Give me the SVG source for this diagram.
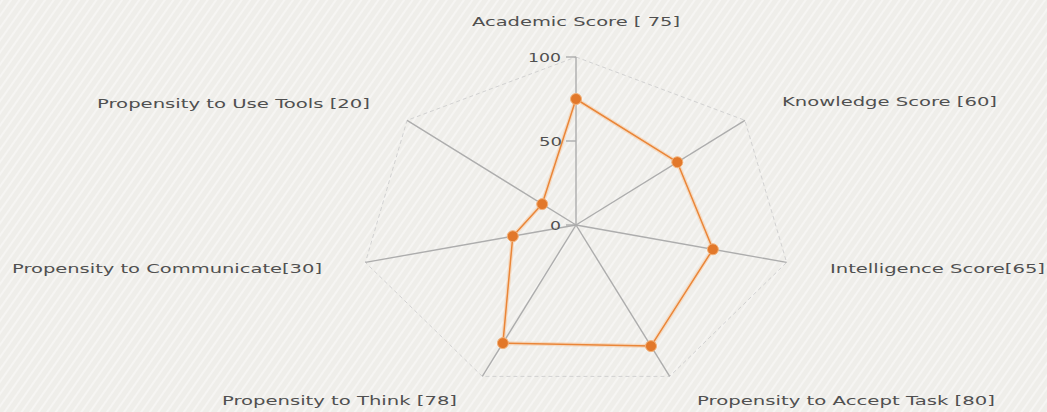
<svg xmlns="http://www.w3.org/2000/svg" width="1047" height="412" viewBox="0 0 1047 412">
  <defs>
    <pattern id="stripes" width="7" height="7" patternUnits="userSpaceOnUse" patternTransform="rotate(35)">
      <rect width="7" height="7" fill="#efeeea"/>
      <line x1="2" y1="0" x2="2" y2="7" stroke="#f6f5f3" stroke-width="2.2"/>
    </pattern>
    <style>
      .lbl { font-family: "DejaVu Sans", Verdana, sans-serif; font-size: 13px; fill: #505050; }
      .tick { font-family: "DejaVu Sans", Verdana, sans-serif; font-size: 13px; fill: #505050; text-anchor: end; }
      .axis { stroke: #adadad; stroke-width: 1.4; fill: none; }
      .ring { stroke: #d2d2d2; stroke-width: 1; stroke-dasharray: 4 3; fill: none; }
      .glow { stroke: #f6c9a0; stroke-width: 4; fill: none; opacity: 0.55; stroke-linejoin: round; }
      .data { stroke: #ea8638; stroke-width: 1.5; fill: none; stroke-linejoin: round; }
      .dot { fill: #e2782a; stroke: #f3b27a; stroke-width: 1; }
    </style>
  </defs>

  <rect width="1047" height="412" fill="url(#stripes)"/>

  <g id="connectors">
    <polygon class="ring" points="576,57 744.9,120.3 786.6,262.4 669.7,376.4 482.3,376.4 365.4,262.4 407.1,120.3"/>
    <line class="axis" x1="576" y1="225" x2="576" y2="57"/>
    <line class="axis" x1="576" y1="225" x2="744.9" y2="120.3"/>
    <line class="axis" x1="576" y1="225" x2="786.6" y2="262.4"/>
    <line class="axis" x1="576" y1="225" x2="669.7" y2="376.4"/>
    <line class="axis" x1="576" y1="225" x2="482.3" y2="376.4"/>
    <line class="axis" x1="576" y1="225" x2="365.4" y2="262.4"/>
    <line class="axis" x1="576" y1="225" x2="407.1" y2="120.3"/>
    <line class="axis" x1="566" y1="57" x2="576" y2="57"/>
    <line class="axis" x1="566" y1="141" x2="576" y2="141"/>
    <line class="axis" x1="566" y1="225" x2="576" y2="225"/>
    <polygon class="glow" points="576,99 677.3,162.2 712.9,249.3 651,346.1 502.9,343.1 512.8,236.2 542.2,204.1"/>
    <polygon class="data" points="576,99 677.3,162.2 712.9,249.3 651,346.1 502.9,343.1 512.8,236.2 542.2,204.1"/>
  </g>

  <g id="scale">
    <text class="tick" x="561" y="62" textLength="33" lengthAdjust="spacingAndGlyphs">100</text>
    <text class="tick" x="562" y="146" textLength="23" lengthAdjust="spacingAndGlyphs">50</text>
    <text class="tick" x="561" y="230" textLength="11" lengthAdjust="spacingAndGlyphs">0</text>
  </g>

  <g id="academic">
    <circle class="dot" cx="576" cy="99" r="5.5"/>
    <text class="lbl" x="472" y="26" textLength="208" lengthAdjust="spacingAndGlyphs">Academic Score [ 75]</text>
  </g>
  <g id="knowledge">
    <circle class="dot" cx="677.3" cy="162.2" r="5.5"/>
    <text class="lbl" x="782" y="106" textLength="215" lengthAdjust="spacingAndGlyphs">Knowledge Score [60]</text>
  </g>
  <g id="intelligence">
    <circle class="dot" cx="712.9" cy="249.3" r="5.5"/>
    <text class="lbl" x="830" y="273" textLength="215" lengthAdjust="spacingAndGlyphs">Intelligence Score[65]</text>
  </g>
  <g id="accept-task">
    <circle class="dot" cx="651" cy="346.1" r="5.5"/>
    <text class="lbl" x="697" y="405" textLength="298" lengthAdjust="spacingAndGlyphs">Propensity to Accept Task [80]</text>
  </g>
  <g id="think">
    <circle class="dot" cx="502.9" cy="343.1" r="5.5"/>
    <text class="lbl" x="222" y="405" textLength="235" lengthAdjust="spacingAndGlyphs">Propensity to Think [78]</text>
  </g>
  <g id="communicate">
    <circle class="dot" cx="512.8" cy="236.2" r="5.5"/>
    <text class="lbl" x="12" y="273" textLength="310" lengthAdjust="spacingAndGlyphs">Propensity to Communicate[30]</text>
  </g>
  <g id="use-tools">
    <circle class="dot" cx="542.2" cy="204.1" r="5.5"/>
    <text class="lbl" x="97" y="108" textLength="273" lengthAdjust="spacingAndGlyphs">Propensity to Use Tools [20]</text>
  </g>
</svg>
